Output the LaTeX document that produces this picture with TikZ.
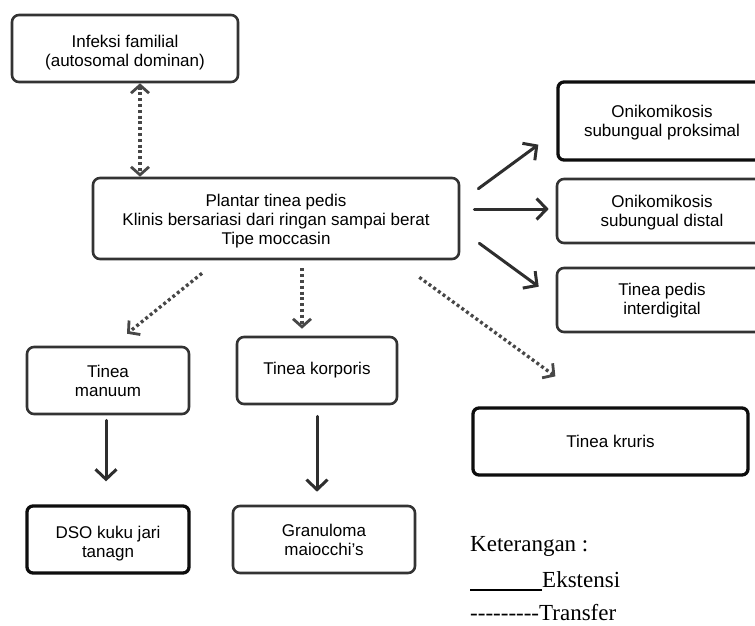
\documentclass[tikz,border=0pt]{standalone}
\usepackage{fontspec}
\setmainfont{Liberation Sans}
\newfontfamily\legendfont{Liberation Serif}
\usetikzlibrary{arrows.meta,calc}
\newcommand\lowtext[2]{\raisebox{-#1}[\height][\depth]{\begin{tabular}{@{}c@{}}#2\end{tabular}}}
\begin{document}
\begin{tikzpicture}[x=1pt,y=-1pt,
  box/.style={draw=black!80, line width=2.6pt, rounded corners=7pt, align=center,
    inner sep=0pt, font=\fontsize{17}{19}\selectfont},
  boldbox/.style={box, draw=black!95, line width=3.3pt, rounded corners=6pt},
  ext/.style={draw=black!82, line width=3pt, line cap=round,
    -{Straight Barb[length=10pt,width=21pt,line width=3pt]}},
  trf/.style={draw=black!72, line width=3.3pt, dash pattern=on 3pt off 2.8pt},
  trftip/.style={-{Straight Barb[length=8pt,width=18pt,line width=2.8pt]}},
  legend/.style={anchor=base west, inner sep=0pt, font=\legendfont\fontsize{23}{25}\selectfont}
]
\useasboundingbox (0,0) rectangle (755,625);

% nodes
\node[box, minimum width=226pt, minimum height=67pt] (infeksi) at (125,48.5)
  {\lowtext{5pt}{Infeksi familial\\(autosomal dominan)}};
\node[box, minimum width=366pt, minimum height=81pt] (main) at (276,218.5)
  {\lowtext{3pt}{Plantar tinea pedis\\Klinis bersariasi dari ringan sampai berat\\Tipe moccasin}};
\node[boldbox, minimum width=208pt, minimum height=78pt] (prok) at (662,121)
  {\lowtext{2pt}{Onikomikosis\\subungual proksimal}};
\node[box, minimum width=210pt, minimum height=64pt] (dist) at (662,211)
  {\lowtext{2pt}{Onikomikosis\\subungual distal}};
\node[box, minimum width=210pt, minimum height=64pt] (inter) at (662,300)
  {\lowtext{1pt}{Tinea pedis\\interdigital}};
\node[box, minimum width=162pt, minimum height=67pt] (manuum) at (108,380.5)
  {Tinea\\manuum};
\node[box, minimum width=160pt, minimum height=67pt] (korp) at (317,370.5)
  {Tinea korporis};
\node[boldbox, minimum width=162pt, minimum height=67pt] (dso) at (108,539.5)
  {\lowtext{5pt}{DSO kuku jari\\tanagn}};
\node[box, minimum width=182pt, minimum height=67pt] (gran) at (324,539.5)
  {Granuloma\\maiocchi's};
\node[boldbox, minimum width=275pt, minimum height=67pt] (kruris) at (610.5,441.5)
  {Tinea kruris};

% transfer (dotted)
\draw[trf, {Straight Barb[length=8pt,width=18pt,line width=2.8pt]}-{Straight Barb[length=8pt,width=18pt,line width=2.8pt]}]
  ([xshift=15pt]infeksi.south) -- ([xshift=15pt]infeksi.south |- main.north);
\draw[trf, trftip] ([shift={(-74,13)}]main.south) -- ([shift={(19,-12)}]manuum.north);
\draw[trf, trftip] ([shift={(-15,8)}]korp.north |- main.south) -- ([shift={(-15,-7)}]korp.north);
\draw[trf, trftip] ([shift={(-41,17)}]main.south east) -- ([shift={(84,-30)}]kruris.north west);

% extension (solid)
\draw[ext] ([shift={(18,12)}]main.north east) -- ([shift={(-18,-17)}]prok.south west);
\draw[ext] ([shift={(14,-2)}]main.east |- dist.west) -- ([shift={(-7,-2)}]dist.west);
\draw[ext] ([shift={(19,-17)}]main.south east) -- ([shift={(-17,20)}]inter.north west);
\draw[ext] ([shift={(-2,5)}]manuum.south) -- ([shift={(-2,-23)}]dso.north);
\draw[ext] ([shift={(0,11)}]korp.south) -- ([shift={(0,-13)}]korp.south |- gran.north);

% legend
\node[legend] (ket) at (470,551) {Keterangan :};
\node[legend] (ekst) at (542,587) {Ekstensi};
\draw[line width=1.8pt] ([yshift=-3pt]ekst.base west) -- ++(-72,0);
\node[legend] (trans) at (470,620) {-{}-{}-{}-{}-{}-{}-{}-{}-Transfer};
\end{tikzpicture}
\end{document}
